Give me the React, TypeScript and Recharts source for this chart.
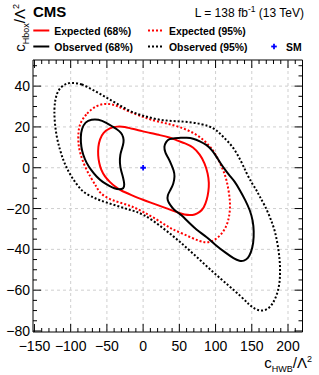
import React from 'react';
import { ScatterChart, Scatter, XAxis, YAxis, ReferenceLine, ReferenceArea } from 'recharts';

// контуры (c_HWB, c_Hbox), обход по часовой стрелке
const expected68: [number, number][] = [
  [-59.8, 14.0], [-55.2, 17.2], [-46, 19.6], [-36, 20.3], [-25, 20.1], [-16, 19.1], [0, 17.9],
  [9.2, 17.0], [23, 16.0], [36.9, 14.9], [46.1, 13.4], [58, 12.0], [69, 10.2], [78.5, 6.5],
  [85.2, 2.2], [89.5, -3], [91.1, -7.5], [90.3, -11.5], [88, -15.8], [84, -19.6], [78.3, -21.8],
  [71, -23.1], [64.5, -23.3], [57, -23.0], [50.7, -22.4], [32.3, -19.9], [15, -17.6], [0, -15.8],
  [-16, -13.4], [-32.2, -10.9], [-39, -9.2], [-46, -7.0], [-52.9, -4.4], [-58, -1.0], [-60.7, 2.2],
  [-62.3, 6.0], [-62.1, 10.3],
];

const expected95: [number, number][] = [
  [-87.4, 21.8], [-78, 26.7], [-64.4, 30.6], [-50.5, 31.6], [-36.7, 30.7], [-18.4, 27.2], [0, 25.0],
  [9.2, 23.6], [30, 21.9], [50.7, 20.1], [73.7, 16.6], [92, 11.0], [101, 6.0], [110, -0.5],
  [115, -5.5], [118.5, -12], [120.5, -18], [119, -24], [115, -29], [106, -33.8], [92.1, -36.9],
  [78.3, -36.3], [55, -32.3], [36.9, -29.7], [20, -25.5], [0, -21.6], [-13.8, -19.1], [-30, -17.3],
  [-46, -15.6], [-59.8, -12.5], [-64.4, -9.3], [-72, -5], [-80.5, 0.5], [-87, 7], [-89.7, 12],
  [-89.5, 17.5],
];

const observed68Left: [number, number][] = [
  [-71.2, 23.7], [-62.1, 23.8], [-50.5, 22.1], [-41.4, 20], [-36.7, 19.0], [-30, 17.2], [-27.2, 15],
  [-26.6, 12.5], [-29, 9.5], [-31.8, 6.5], [-32.4, 2.2], [-30.5, -1.5], [-27.6, -4.6], [-25.5, -8.5],
  [-27, -10.2], [-32.2, -10.7], [-40, -10.2], [-46, -9], [-56, -7], [-64.3, -4.4], [-72, -1],
  [-78.1, 2.2], [-83, 6.5], [-85.5, 10], [-86.4, 15.2], [-84.8, 19], [-80, 22.5],
];

const observed68Right: [number, number][] = [
  [43.8, 14.5], [36, 14.2], [31.5, 12.7], [28.6, 10.3], [30.5, 7.3], [34.5, 5.0], [38.5, 2.0],
  [42.5, -1.5], [43.8, -4], [42, -8], [37.5, -11], [33.5, -13.5], [33.5, -16], [36.9, -18],
  [42, -20.5], [50.7, -22.6], [55.2, -24], [62, -26.5], [73.7, -30.5], [87.5, -33.8], [100, -38],
  [115.1, -42], [125, -44.5], [133.5, -45.8], [139, -45.7], [144.9, -44.4], [149, -41.5],
  [152.3, -37.1], [153, -31], [151.5, -26], [147.8, -21], [141, -15.8], [133.5, -10.9],
  [126, -6.5], [119.7, -4.0], [115.1, -2.0], [105.9, 2.6], [101.3, 5.5], [94.4, 8.9], [87.5, 11.3],
  [78.3, 13.0], [69, 14.4], [59.9, 14.7], [52, 14.8],
];

const observed95: [number, number][] = [
  [-98.8, 41.7], [-85, 41.2], [-69, 38.1], [-52, 34.6], [-36.7, 31.6], [-18.4, 27.6], [0, 25.4],
  [23, 23.3], [45, 22.8], [69, 22.4], [92, 20.4], [101.3, 18.5], [110.4, 15.2], [124.2, 10.3],
  [135, 3.5], [142.7, -2.7], [150, -7.5], [156.5, -10.9], [161, -14.2], [168, -18.5], [174.9, -24],
  [181.8, -30.5], [186, -38], [188.7, -45.2], [189.2, -51], [188.5, -56.7], [185, -62],
  [179.4, -66.5], [172, -69.5], [163.4, -70.2], [155, -69.5], [146, -67], [135, -63],
  [119.7, -58.3], [96, -51], [73.7, -43.6], [50, -36], [27.6, -29.5], [0, -22.4], [-18.4, -20.7],
  [-40, -18.2], [-59.8, -16], [-72, -14], [-82.8, -12], [-91, -8.5], [-98.8, -4.5], [-105, -0.5],
  [-110.4, 3.8], [-115, 9], [-119.5, 15.2], [-122, 22], [-122.8, 28.3], [-121.5, 33], [-119, 36.5],
  [-114, 39.5], [-106, 41.3],
];

const smPoint: [number, number][] = [[0, 0]];

// оси
const xMajor = [-150, -100, -50, 0, 50, 100, 150, 200];
const yMajor = [-80, -60, -40, -20, 0, 20, 40];

const FONT = '"Liberation Sans", Arial, Helvetica, sans-serif';
const W = 319;
const H = 375;
const PLOT = { left: 33, right: 302.5, top: 60, bottom: 332 };
const X_DOMAIN: [number, number] = [-152, 220];
const Y_DOMAIN: [number, number] = [-80.5, 52.8];
const RED = '#ff0000';
const BLUE = '#0000ff';

function range(from: number, to: number, step: number) {
  const out: number[] = [];
  for (let v = from; v <= to + 1e-9; v += step) out.push(Math.round(v * 100) / 100);
  return out;
}
const xTicks = range(-150, 220, 10);
const yTicks = range(-80, 50, 5);

const toPoints = (arr: [number, number][]) => arr.map(([x, y]) => ({ x, y }));
const fmt = (v: number) => (v < 0 ? '\u2212' + Math.abs(v) : String(v));

const series = [
  { key: 'e68', name: 'Expected (68%)', parts: [expected68], color: RED, dash: undefined },
  { key: 'e95', name: 'Expected (95%)', parts: [expected95], color: RED, dash: '2 2' },
  { key: 'o68', name: 'Observed (68%)', parts: [observed68Left, observed68Right], color: '#000', dash: undefined },
  { key: 'o95', name: 'Observed (95%)', parts: [observed95], color: '#000', dash: '2 2' },
];

function XTick(props: any) {
  const { x, payload } = props;
  const v = payload.value;
  const major = xMajor.includes(v);
  const len = major ? 8 : 4;
  return (
    <g>
      <line x1={x} x2={x} y1={PLOT.bottom} y2={PLOT.bottom - len} stroke="#000" />
      <line x1={x} x2={x} y1={PLOT.top} y2={PLOT.top + len} stroke="#000" />
      {major && (
        <text x={x} y={PLOT.bottom + 18.7} textAnchor="middle" fontSize={14} fontFamily={FONT} fill="#000">
          {fmt(v)}
        </text>
      )}
    </g>
  );
}

function YTick(props: any) {
  const { y, payload } = props;
  const v = payload.value;
  const major = yMajor.includes(v);
  const len = major ? 8 : 4;
  return (
    <g>
      <line x1={PLOT.left} x2={PLOT.left + len} y1={y} y2={y} stroke="#000" />
      <line x1={PLOT.right} x2={PLOT.right - len} y1={y} y2={y} stroke="#000" />
      {major && (
        <text x={30} y={y + 5} textAnchor="end" fontSize={14} fontFamily={FONT} fill="#000">
          {fmt(v)}
        </text>
      )}
    </g>
  );
}

const NoDot = () => <g />;

function Plus(props: any) {
  const { cx, cy } = props;
  return (
    <g stroke={BLUE} strokeWidth={1.8}>
      <line x1={cx - 2.8} x2={cx + 2.8} y1={cy} y2={cy} />
      <line x1={cx} x2={cx} y1={cy - 2.8} y2={cy + 2.8} />
    </g>
  );
}

function LegendItem({ x, y, s }: { x: number; y: number; s: typeof series[number] }) {
  return (
    <g>
      <line x1={x} x2={x + 16} y1={y} y2={y} stroke={s.color} strokeWidth={2} strokeDasharray={s.dash} />
      <text x={x + 21} y={y + 4} fontSize={10.4} fontWeight="bold" fontFamily={FONT} fill="#000">
        {s.name}
      </text>
    </g>
  );
}

export default function App() {
  return (
    <div style={{ position: 'absolute', left: 0, top: 0, width: W, height: H, background: '#fff' }}>
      <ScatterChart width={W} height={H} margin={{ top: PLOT.top, right: W - PLOT.right, bottom: 0, left: 0 }}>
        <XAxis
          type="number"
          dataKey="x"
          domain={X_DOMAIN}
          allowDataOverflow
          ticks={xTicks}
          interval={0}
          tick={(p: any) => <XTick {...p} />}
          tickLine={false}
          axisLine={false}
          tickSize={0}
          height={H - PLOT.bottom}
        />
        <YAxis
          type="number"
          dataKey="y"
          domain={Y_DOMAIN}
          allowDataOverflow
          ticks={yTicks}
          interval={0}
          tick={(p: any) => <YTick {...p} />}
          tickLine={false}
          axisLine={false}
          tickSize={0}
          width={PLOT.left}
        />
        {xMajor.filter((v) => v > -150).map((v) => (
          <ReferenceLine key={'gx' + v} x={v} stroke="#cfcfcf" strokeDasharray="3 3" />
        ))}
        {yMajor.filter((v) => v > -80).map((v) => (
          <ReferenceLine key={'gy' + v} y={v} stroke="#cfcfcf" strokeDasharray="3 3" />
        ))}
        {series.flatMap((s) =>
          s.parts.map((part, i) => (
            <Scatter
              key={s.key + i}
              name={s.name}
              data={toPoints(part)}
              shape={NoDot}
              line={{ stroke: s.color, strokeWidth: 2, strokeDasharray: s.dash, fill: 'none' }}
              lineType="joint"
              lineJointType="basisClosed"
              fill={s.color}
              isAnimationActive={false}
            />
          ))
        )}
        <Scatter name="SM" data={toPoints(smPoint)} shape={Plus} fill={BLUE} isAnimationActive={false} />
        <ReferenceArea
          x1={X_DOMAIN[0]}
          x2={X_DOMAIN[1]}
          y1={Y_DOMAIN[0]}
          y2={Y_DOMAIN[1]}
          fill="none"
          fillOpacity={0}
          stroke="#000"
          strokeWidth={1}
        />
      </ScatterChart>
      <svg width={W} height={H} style={{ position: 'absolute', left: 0, top: 0, pointerEvents: 'none' }}>
        <text x={33} y={16.7} fontSize={15} fontWeight="bold" fontFamily={FONT} fill="#000">CMS</text>
        <text x={304} y={17.3} fontSize={12} fontFamily={FONT} fill="#000" textAnchor="end">
          L = 138 fb
          <tspan fontSize={8.5} dy={-5}>-1</tspan>
          <tspan dy={5}> (13 TeV)</tspan>
        </text>
        <LegendItem x={33.3} y={30.5} s={series[0]} />
        <LegendItem x={148} y={30.5} s={series[1]} />
        <LegendItem x={33.3} y={46.5} s={series[2]} />
        <LegendItem x={148} y={46.5} s={series[3]} />
        <Plus cx={274} cy={46.5} />
        <text x={286} y={50.5} fontSize={10.4} fontWeight="bold" fontFamily={FONT} fill="#000">SM</text>
        {/* подписи осей */}
        <text x={312} y={368} textAnchor="end" fontFamily={FONT} fill="#000" fontSize={15}>
          c<tspan fontSize={9} dy={3.5}>HWB</tspan>
          <tspan dy={-3.5}>/Λ</tspan>
          <tspan fontSize={9} dy={-6}>2</tspan>
        </text>
        <text transform="translate(25,4) rotate(-90)" textAnchor="end" fontFamily={FONT} fill="#000" fontSize={15}>
          c<tspan fontSize={9} dy={3.5}>Hbox</tspan>
          <tspan dy={-3.5}>/Λ</tspan>
          <tspan fontSize={9} dy={-6}>2</tspan>
        </text>
      </svg>
    </div>
  );
}
